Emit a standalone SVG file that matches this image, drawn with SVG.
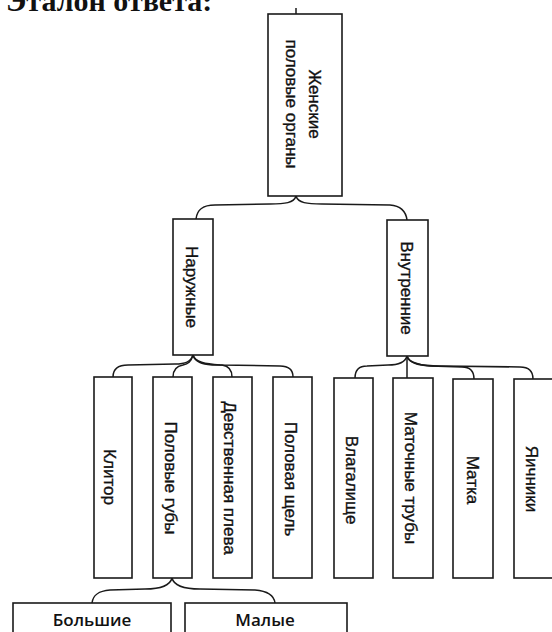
<svg xmlns="http://www.w3.org/2000/svg" width="552" height="632" viewBox="0 0 552 632">
<style>
.box{fill:#fff;stroke:#1a1a1a;stroke-width:1.6}
.lbl{font-family:"Liberation Sans",Arial,sans-serif;font-size:17px;fill:#111;stroke:#111;stroke-width:0.35;text-anchor:middle;dominant-baseline:central}
.lbl2{font-family:"Open Sans","Noto Sans",sans-serif;font-weight:600;font-size:17px;fill:#111;text-anchor:middle}
.con{fill:none;stroke:#1a1a1a;stroke-width:1.5}
.title{font-family:"Liberation Serif","Times New Roman",serif;font-weight:bold;font-size:30px;fill:#111}
</style>
<rect width="552" height="632" fill="#fff"/>
<text class="title" x="6" y="11">Эталон ответа:</text>
<g id="connectors">
<path class="con" d="M296,8 L296,14"/>
<path class="con" d="M296,196 C294,203 285,204 270,204 L215,205 C202,205 197,210 196,219"/>
<path class="con" d="M296,196 C298,203 307,204 322,204 L390,205 C402,206 406,212 407,220"/>
<path class="con" d="M193,355 C191,362 185,364 175,364 L128,365 C118,365 113,369 113,377"/>
<path class="con" d="M193,355 C191,362 188,364 183,365 C177,366 173,369 173,377"/>
<path class="con" d="M193,355 C195,362 202,364 212,365 L222,365 C229,366 232,370 232,377"/>
<path class="con" d="M193,355 C195,362 205,364 220,365 L280,366 C289,366 293,370 293,377"/>
<path class="con" d="M407,356 C405,363 398,365 388,365 L367,366 C359,366 355,370 355,378"/>
<path class="con" d="M407,356 L407,378"/>
<path class="con" d="M407,356 C409,363 418,365 430,366 L462,367 C470,367 474,371 474,379"/>
<path class="con" d="M407,356 C409,363 420,366 440,366 L520,367 C529,367 533,372 533,379"/>
<path class="con" d="M172,578 C170,586 160,589 145,589 L110,590 C98,591 93,595 92,603"/>
<path class="con" d="M172,578 C174,586 184,589 200,589 L255,590 C268,591 274,595 275,603"/>
</g>
<g id="root">
<rect class="box" x="268" y="14" width="74" height="182"/>
<text class="lbl" transform="translate(303,104) rotate(90)"><tspan x="0" y="-11.5">Женские</tspan><tspan x="0" y="11.5">половые органы</tspan></text>
</g>
<g id="naruzhnye">
<rect class="box" x="173" y="219" width="40" height="136"/>
<text class="lbl" transform="translate(191,287) rotate(90)">Наружные</text>
</g>
<g id="vnutrennie">
<rect class="box" x="387" y="220" width="41" height="136"/>
<text class="lbl" transform="translate(406,288) rotate(90)">Внутренние</text>
</g>
<g id="klitor">
<rect class="box" x="94" y="377" width="38" height="201"/>
<text class="lbl" transform="translate(109,477) rotate(90)">Клитор</text>
</g>
<g id="polovye-guby">
<rect class="box" x="153" y="377" width="39" height="201"/>
<text class="lbl" transform="translate(170,478) rotate(90)">Половые губы</text>
</g>
<g id="devstvennaya">
<rect class="box" x="213" y="377" width="39" height="201"/>
<text class="lbl" transform="translate(229,478) rotate(90)">Девственная плева</text>
</g>
<g id="polovaya-shchel">
<rect class="box" x="273" y="377" width="39" height="201"/>
<text class="lbl" transform="translate(290,479) rotate(90)">Половая щель</text>
</g>
<g id="vlagalishche">
<rect class="box" x="334" y="378" width="39" height="200"/>
<text class="lbl" transform="translate(351,480) rotate(90)">Влагалище</text>
</g>
<g id="matochnye-truby">
<rect class="box" x="393" y="378" width="40" height="200"/>
<text class="lbl" transform="translate(410,478) rotate(90)">Маточные трубы</text>
</g>
<g id="matka">
<rect class="box" x="453" y="379" width="40" height="199"/>
<text class="lbl" transform="translate(472,480) rotate(90)">Матка</text>
</g>
<g id="yaichniki">
<rect class="box" x="514" y="379" width="42" height="199"/>
<text class="lbl" transform="translate(531,479) rotate(90)">Яичники</text>
</g>
<g id="bolshie">
<rect class="box" x="13" y="603" width="158" height="40"/>
<text class="lbl2" x="92" y="626">Большие</text>
</g>
<g id="malye">
<rect class="box" x="185" y="603" width="162" height="40"/>
<text class="lbl2" x="265" y="626">Малые</text>
</g>
</svg>
